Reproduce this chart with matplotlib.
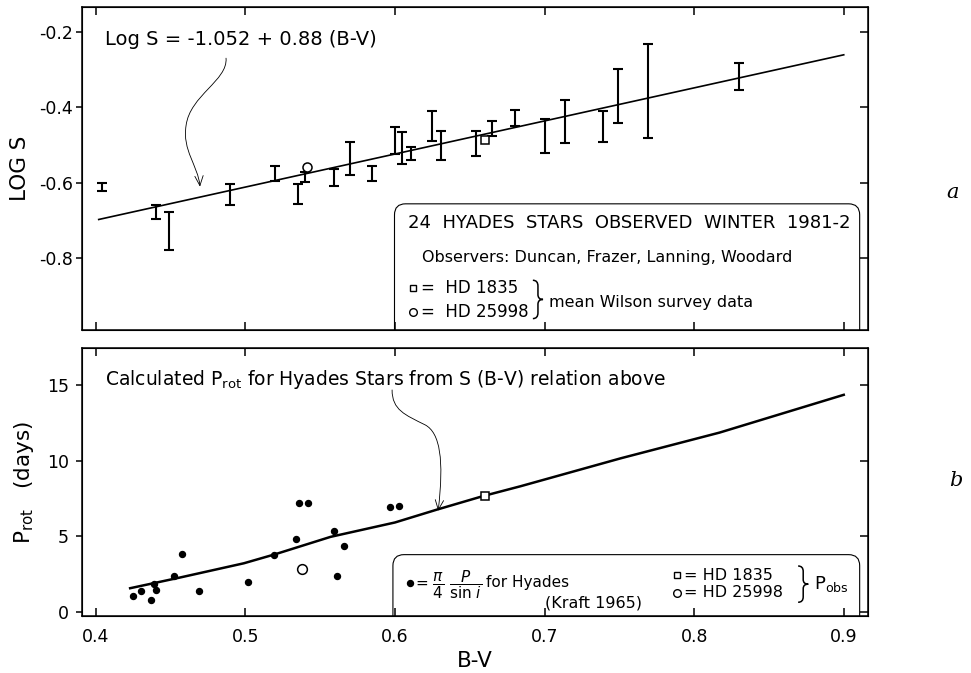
import numpy as np
import matplotlib.pyplot as plt
from matplotlib.path import Path
from matplotlib.patches import FancyArrowPatch, FancyBboxPatch, PathPatch

plt.rcParams['font.family'] = 'DejaVu Sans'
plt.rcParams['mathtext.fontset'] = 'dejavusans'

# --- (a) Hyades stars, Mt Wilson S index, winter 1981-2 ---
bv_obs = [0.404, 0.440, 0.449, 0.490, 0.520, 0.535, 0.540, 0.559, 0.570, 0.585,
          0.600, 0.605, 0.611, 0.625, 0.631, 0.654, 0.665, 0.680, 0.700, 0.714,
          0.739, 0.749, 0.769, 0.830]
logs_obs = [-0.612, -0.678, -0.729, -0.632, -0.575, -0.631, -0.586, -0.587, -0.535, -0.577,
            -0.489, -0.508, -0.523, -0.450, -0.502, -0.496, -0.455, -0.428, -0.475, -0.437,
            -0.451, -0.369, -0.357, -0.318]
logs_err = [0.011, 0.019, 0.050, 0.029, 0.020, 0.027, 0.013, 0.023, 0.044, 0.020,
            0.036, 0.042, 0.017, 0.040, 0.038, 0.033, 0.020, 0.022, 0.045, 0.057,
            0.042, 0.072, 0.125, 0.036]

# mean Wilson survey values
hd1835_bv, hd1835_logs = 0.660, -0.486
hd25998_bv, hd25998_logs = 0.541, -0.559

# Log S = -1.052 + 0.88 (B-V)
fit_a, fit_b = -1.052, 0.88
fit_bv = np.array([0.402, 0.900])

# --- (b) rotation periods ---
bv_kraft = [0.425, 0.430, 0.437, 0.439, 0.440, 0.452, 0.458, 0.469, 0.502, 0.519,
            0.534, 0.536, 0.542, 0.559, 0.566, 0.561, 0.597, 0.603]
p_kraft = [1.01, 1.34, 0.79, 1.85, 1.46, 2.38, 3.82, 1.34, 1.99, 3.75,
           4.83, 7.20, 7.17, 5.34, 4.32, 2.38, 6.93, 6.97]

bv_calc = [0.423, 0.456, 0.499, 0.520, 0.557, 0.600, 0.628, 0.659, 0.684, 0.751, 0.817, 0.900]
p_calc = [1.55, 2.25, 3.20, 3.80, 4.95, 5.90, 6.75, 7.65, 8.30, 10.15, 11.85, 14.35]

hd1835_p = 7.65
hd25998_bv_b, hd25998_p = 0.538, 2.83

fig = plt.figure(figsize=(9.71, 6.73), dpi=100)
ax1 = fig.add_axes([0.0841, 0.5104, 0.8095, 0.4788])
ax2 = fig.add_axes([0.0841, 0.0840, 0.8095, 0.3994])

xticks = [0.4, 0.5, 0.6, 0.7, 0.8, 0.9]


def frame(ax, yticks, ylim, ylabel_pad):
    ax.set_xlim(0.3906, 0.916)
    ax.set_ylim(*ylim)
    ax.set_xticks(xticks)
    ax.set_yticks(yticks)
    for s in ax.spines.values():
        s.set_linewidth(1.1)
    ax.tick_params(axis='x', direction='in', top=True, bottom=True,
                   length=6, width=1.1, labelsize=12.5, pad=8)
    ax.tick_params(axis='y', direction='out', left=True, right=False,
                   length=4, width=1.1, labelsize=12.5, pad=ylabel_pad)
    tw = ax.twinx()
    tw.set_ylim(*ylim)
    tw.set_yticks(yticks)
    tw.tick_params(axis='y', direction='in', length=6, width=1.1, labelright=False)


def box(ax, x0, y_top, aspect):
    p = FancyBboxPatch((x0, -0.1), 0.9898 - x0, y_top + 0.1,
                       boxstyle='round,pad=0,rounding_size=0.014',
                       mutation_aspect=aspect, transform=ax.transAxes,
                       fc='none', ec='black', lw=0.8, zorder=1)
    ax.add_patch(p)


def brace(ax, x0, yc, w, h):
    # right-facing curly brace, drawn as a thin stroke
    u = [0, 0.5, 0.5, 0.5, 0.5, 1, 0.5, 0.5, 0.5, 0.5, 0]
    v = [1, 1, 0.7, 0.25, 0, 0, 0, -0.25, -0.7, -1, -1]
    pts = [(x0 + a * w, yc + b * h / 2) for a, b in zip(u, v)]
    cd = [Path.MOVETO, Path.CURVE3, Path.CURVE3, Path.LINETO, Path.CURVE3, Path.CURVE3,
          Path.CURVE3, Path.CURVE3, Path.LINETO, Path.CURVE3, Path.CURVE3]
    ax.add_patch(PathPatch(Path(pts, cd), fc='none', ec='black', lw=1.1, clip_on=False))


# ---------------- panel a ----------------
frame(ax1, [-0.2, -0.4, -0.6, -0.8], (-0.991, -0.1335), 2.5)
ax1.tick_params(axis='x', labelbottom=False)
ax1.set_yticklabels(['-0.2', '-0.4', '-0.6', '-0.8'])
ax1.set_ylabel('LOG S', fontsize=15.5, labelpad=6)

ax1.plot(fit_bv, fit_a + fit_b * fit_bv, color='black', lw=1.2, zorder=2)
ax1.errorbar(bv_obs, logs_obs, yerr=logs_err, fmt='none', ecolor='black',
             elinewidth=1.5, capsize=3.5, capthick=1.5, zorder=3)
ax1.plot(hd1835_bv, hd1835_logs, marker='s', ms=5.5, mfc='white', mec='black', mew=1.1, zorder=4)
ax1.plot(hd25998_bv, hd25998_logs, marker='o', ms=6.5, mfc='white', mec='black', mew=1.1, zorder=4)

ax1.text(0.4062, -0.218, 'Log S = -1.052 + 0.88 (B-V)', fontsize=14, va='center')
verts = [(0.4871, -0.269), (0.4884, -0.328), (0.4630, -0.368), (0.4604, -0.448),
         (0.4577, -0.515), (0.4684, -0.555), (0.4697, -0.611)]
codes = [Path.MOVETO] + [Path.CURVE4] * 6
ax1.add_patch(FancyArrowPatch(path=Path(verts, codes), arrowstyle='->,head_length=7,head_width=3',
                              lw=0.6, color='black'))

box(ax1, 0.398, 0.390, 786 / 322.2)
ax1.text(0.6088, -0.7076, '24  HYADES  STARS  OBSERVED  WINTER  1981-2', fontsize=13, va='center')
ax1.text(0.618, -0.8007, 'Observers: Duncan, Frazer, Lanning, Woodard', fontsize=11.5, va='center')
ax1.plot(0.6118, -0.8806, marker='s', ms=5, mfc='white', mec='black', mew=1.0, clip_on=False)
ax1.plot(0.6118, -0.9440, marker='o', ms=5.5, mfc='white', mec='black', mew=1.0, clip_on=False)
ax1.text(0.6175, -0.8806, '=  HD 1835', fontsize=12, va='center')
ax1.text(0.6175, -0.9440, '=  HD 25998', fontsize=12, va='center')
brace(ax1, 0.6922, -0.911, 0.0068, 0.102)
ax1.text(0.7030, -0.918, 'mean Wilson survey data', fontsize=11.5, va='center')

# ---------------- panel b ----------------
frame(ax2, [0, 5, 10, 15], (-0.32, 17.47), 5)
ax2.set_xticklabels(['0.4', '0.5', '0.6', '0.7', '0.8', '0.9'])
ax2.set_xlabel('B-V', fontsize=15.5, labelpad=4)
ax2.set_ylabel(r'P$_{\rm rot}$   (days)', fontsize=15.5, labelpad=8)

ax2.plot(bv_calc, p_calc, color='black', lw=1.8, zorder=2)
ax2.plot(bv_kraft, p_kraft, 'o', color='black', ms=4.3, zorder=3)
ax2.plot(hd1835_bv, hd1835_p, marker='s', ms=6, mfc='white', mec='black', mew=1.1, zorder=4)
ax2.plot(hd25998_bv_b, hd25998_p, marker='o', ms=7, mfc='white', mec='black', mew=1.1, zorder=4)

ax2.text(0.4062, 15.34, r'Calculated P$_{\rm rot}$ for Hyades Stars from S (B-V) relation above',
         fontsize=13.5, va='center')
verts = [(0.5981, 14.67), (0.5981, 13.35), (0.6068, 13.02), (0.6202, 12.36),
         (0.6302, 11.83), (0.6329, 10.04), (0.6289, 6.67)]
ax2.add_patch(FancyArrowPatch(path=Path(verts, codes), arrowstyle='->,head_length=7,head_width=3',
                              lw=0.6, color='black'))

box(ax2, 0.396, 0.230, 786 / 268.8)
ax2.plot(0.6101, 1.92, 'o', color='black', ms=4.3, clip_on=False)
ax2.text(0.6136, 1.80, r'= $\dfrac{\pi}{4}\ \dfrac{P}{\sin\,i}$', fontsize=11, va='center')
ax2.text(0.6610, 1.95, 'for Hyades', fontsize=11, va='center')
ax2.text(0.7005, 0.58, '(Kraft 1965)', fontsize=11.5, va='center')
ax2.plot(0.7887, 2.40, marker='s', ms=5, mfc='white', mec='black', mew=1.0, clip_on=False)
ax2.plot(0.7887, 1.24, marker='o', ms=5.5, mfc='white', mec='black', mew=1.0, clip_on=False)
ax2.text(0.7935, 2.40, '= HD 1835', fontsize=11.5, va='center')
ax2.text(0.7935, 1.24, '= HD 25998', fontsize=11.5, va='center')
brace(ax2, 0.8695, 1.82, 0.0068, 2.4)
ax2.text(0.8800, 1.85, r'P$_{\rm obs}$', fontsize=13, va='center')

fig.text(953 / 971, 1 - 193 / 673, 'a', fontsize=15, family='DejaVu Serif',
         style='italic', ha='center', va='center')
fig.text(956 / 971, 1 - 481 / 673, 'b', fontsize=15, family='DejaVu Serif',
         style='italic', ha='center', va='center')

fig.savefig('out.png', dpi=100)
